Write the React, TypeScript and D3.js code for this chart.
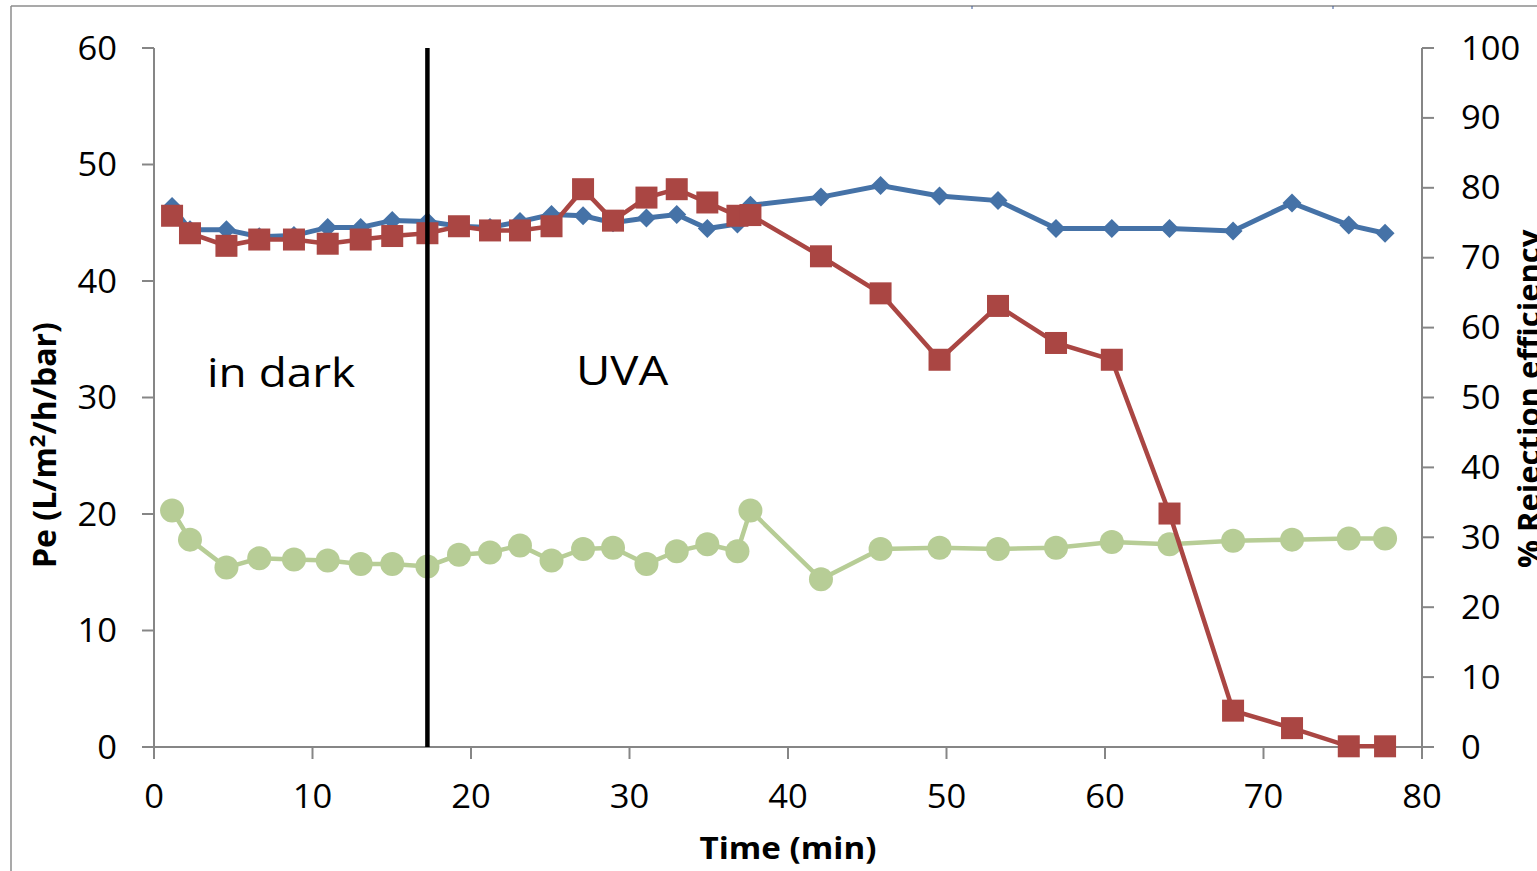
import React from "react";
import * as d3 from "d3";

const timeMin = [1.14, 2.27, 4.57, 6.64, 8.83, 10.96, 13.04, 15.03, 17.25, 19.24, 21.2, 23.09, 25.08, 27.07, 28.96, 31.07, 32.98, 34.91, 36.81, 37.63, 42.08, 45.84, 49.56, 53.25, 56.91, 60.43, 64.07, 68.08, 71.8, 75.38, 77.67];
const peBlue = [46.4, 44.4, 44.4, 43.8, 43.9, 44.6, 44.6, 45.2, 45.1, 44.7, 44.6, 45.1, 45.7, 45.6, 45.0, 45.4, 45.7, 44.5, 44.9, 46.5, 47.2, 48.2, 47.3, 46.9, 44.5, 44.5, 44.5, 44.3, 46.7, 44.8, 44.1];
const peGreen = [20.3, 17.8, 15.4, 16.2, 16.1, 16.0, 15.7, 15.7, 15.5, 16.5, 16.7, 17.3, 16.0, 17.0, 17.1, 15.7, 16.8, 17.4, 16.8, 20.3, 14.4, 17.0, 17.1, 17.0, 17.1, 17.6, 17.4, 17.7, 17.8, 17.9, 17.9];
const rejectionRed = [76.0, 73.5, 71.7, 72.6, 72.6, 72.0, 72.6, 73.1, 73.5, 74.5, 73.9, 73.9, 74.5, 79.8, 75.3, 78.6, 79.8, 77.9, 76.0, 76.1, 70.2, 64.9, 55.4, 63.1, 57.8, 55.4, 33.4, 5.2, 2.7, 0.1, 0.1];

const xTicks = [0, 10, 20, 30, 40, 50, 60, 70, 80];
const leftTicks = [0, 10, 20, 30, 40, 50, 60];
const rightTicks = [0, 10, 20, 30, 40, 50, 60, 70, 80, 90, 100];
const dividerTime = 17.25;

const FONT = "'Open Sans', 'DejaVu Sans', sans-serif";
const AXIS = "#868686";
const BLUE = "#4572A7";
const RED = "#AA4643";
const GREEN = "#B7CD96";

function SText(props: { x: number; y: number; sx: number; size: number; anchor?: string; bold?: boolean; children: React.ReactNode }) {
  const { x, y, sx, size, anchor, bold, children } = props;
  return (
    <g transform={`translate(${x},${y}) scale(${sx},1)`}>
      <text x={0} y={0} textAnchor={anchor || "start"} fontSize={size} fontWeight={bold ? "bold" : "normal"} fill="#000">
        {children}
      </text>
    </g>
  );
}

export default function App() {
  const W = 1537, H = 871;
  const x = d3.scaleLinear().domain([0, 80]).range([154, 1422]);
  const yL = d3.scaleLinear().domain([0, 60]).range([747, 48]);
  const yR = d3.scaleLinear().domain([0, 100]).range([747, 48]);

  const lineBlue = d3.line<number>().x((_, i) => x(timeMin[i])).y((d) => yL(d));
  const lineGreen = d3.line<number>().x((_, i) => x(timeMin[i])).y((d) => yL(d));
  const lineRed = d3.line<number>().x((_, i) => x(timeMin[i])).y((d) => yR(d));
  const diamond = d3.symbol().type(d3.symbolDiamond2).size(230)();

  return (
    <svg width={W} height={H} style={{ position: "fixed", left: 0, top: 0, background: "#fff" }} fontFamily={FONT}>
      <rect x={0} y={0} width={W} height={H} fill="#fff" />
      {/* outer frame */}
      <line x1={11} y1={6} x2={W} y2={6} stroke="#8c8c8c" strokeWidth={1.5} />
      <line x1={11} y1={6} x2={11} y2={H} stroke="#8c8c8c" strokeWidth={1.5} />
      <line x1={972} y1={6} x2={972} y2={9} stroke="#3b5998" strokeWidth={1} />
      <line x1={1333} y1={6} x2={1333} y2={9} stroke="#3b5998" strokeWidth={1} />

      {/* axes */}
      <line x1={x(0)} y1={yL(0)} x2={x(80)} y2={yL(0)} stroke={AXIS} strokeWidth={2} />
      <line x1={x(0)} y1={yL(0)} x2={x(0)} y2={yL(60)} stroke={AXIS} strokeWidth={2} />
      <line x1={x(80)} y1={yR(0)} x2={x(80)} y2={yR(100)} stroke={AXIS} strokeWidth={2} />
      {xTicks.map((t) => (
        <g key={"xt" + t}>
          <line x1={x(t)} x2={x(t)} y1={yL(0)} y2={yL(0) + 12} stroke={AXIS} strokeWidth={2} />
          <SText x={x(t)} y={808} sx={1.08} size={32} anchor="middle">{t}</SText>
        </g>
      ))}
      {leftTicks.map((t) => (
        <g key={"lt" + t}>
          <line x1={x(0) - 12} x2={x(0)} y1={yL(t)} y2={yL(t)} stroke={AXIS} strokeWidth={2} />
          <SText x={117} y={yL(t) + 11.5} sx={1.08} size={32} anchor="end">{t}</SText>
        </g>
      ))}
      {rightTicks.map((t) => (
        <g key={"rt" + t}>
          <line x1={x(80)} x2={x(80) + 12} y1={yR(t)} y2={yR(t)} stroke={AXIS} strokeWidth={2} />
          <SText x={1461} y={yR(t) + 11.5} sx={1.08} size={32} anchor="start">{t}</SText>
        </g>
      ))}

      {/* axis titles */}
      <SText x={788} y={859} sx={1.07} size={31} anchor="middle" bold>Time (min)</SText>
      <text transform="translate(56,568) rotate(-90)" textAnchor="start" fontSize={32} fontWeight="bold" fill="#000">
        Pe (L/m<tspan dy={-11} fontSize={22}>2</tspan><tspan dy={11}>/h/bar)</tspan>
      </text>
      <text transform="translate(1540,568) rotate(-90)" textAnchor="start" fontSize={31} fontWeight="bold" fill="#000">
        % Rejection efficiency
      </text>

      {/* annotations */}
      <SText x={207} y={387} sx={1.12} size={41}>in dark</SText>
      <SText x={576} y={385} sx={1.15} size={41}>UVA</SText>

      {/* green series */}
      <path d={lineGreen(peGreen) || ""} fill="none" stroke={GREEN} strokeWidth={4.5} />
      {peGreen.map((v, i) => (
        <circle key={"g" + i} cx={x(timeMin[i])} cy={yL(v)} r={12} fill={GREEN} />
      ))}

      {/* blue series */}
      <path d={lineBlue(peBlue) || ""} fill="none" stroke={BLUE} strokeWidth={5} />
      {peBlue.map((v, i) => (
        <path key={"b" + i} d={diamond || ""} transform={`translate(${x(timeMin[i])},${yL(v)})`} fill={BLUE} />
      ))}

      {/* red series */}
      <path d={lineRed(rejectionRed) || ""} fill="none" stroke={RED} strokeWidth={4.5} />
      {rejectionRed.map((v, i) => (
        <rect key={"r" + i} x={x(timeMin[i]) - 11} y={yR(v) - 11} width={22} height={22} fill={RED} />
      ))}

      {/* divider */}
      <line x1={x(dividerTime)} x2={x(dividerTime)} y1={yL(60)} y2={yL(0)} stroke="#000" strokeWidth={4.5} />
    </svg>
  );
}
